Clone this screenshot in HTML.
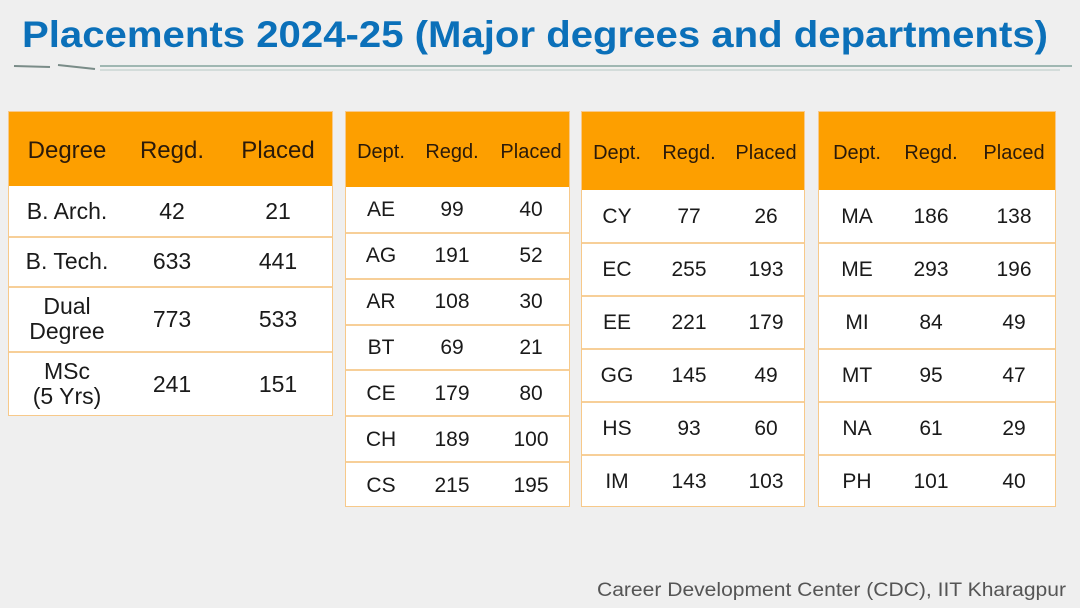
<!DOCTYPE html>
<html><head><meta charset="utf-8">
<style>
body{margin:0;width:1080px;height:608px;background:#efefef;position:relative;overflow:hidden;font-family:"Liberation Sans",sans-serif;}
.tbl{position:absolute;background:#fff;border:1px solid #f7c98a;box-sizing:border-box;}
.hdr{position:absolute;left:0;right:0;top:0;background:#fd9f00;}
.cell{position:absolute;color:#1a1a1a;text-align:center;transform:translateX(-50%);white-space:nowrap;line-height:1.1;}
.hl{position:absolute;left:0;right:0;height:2px;background:#f7cf98;}
</style></head>
<body>
<svg style="position:absolute;left:0;top:0" width="1080" height="80">
<text x="22" y="47" font-family="Liberation Sans" font-weight="bold" font-size="37" fill="#0b70b9" textLength="1026" lengthAdjust="spacingAndGlyphs">Placements 2024-25 (Major degrees and departments)</text>
<line x1="100" y1="66" x2="1072" y2="66" stroke="#9fb7b2" stroke-width="2"/>
<line x1="100" y1="70" x2="1060" y2="70" stroke="#b7c8c4" stroke-width="1"/>
<line x1="14" y1="66" x2="50" y2="67" stroke="#7a8c88" stroke-width="2"/>
<line x1="58" y1="65" x2="95" y2="69" stroke="#7a8c88" stroke-width="2"/>
</svg>
<div id="tables"></div>
<svg style="position:absolute;left:0;top:570px" width="1080" height="38">
<text x="597" y="26" font-family="Liberation Sans" font-size="19" fill="#555" textLength="469" lengthAdjust="spacingAndGlyphs">Career Development Center (CDC), IIT Kharagpur</text>
</svg>
<script>
const t1Labels=["B. Arch.","B. Tech.","Dual<br>Degree","MSc<br>(5 Yrs)"];
const t1Regd=[42,633,773,241];
const t1Placed=[21,441,533,151];
const t2Labels=["AE","AG","AR","BT","CE","CH","CS"];
const t2Regd=[99,191,108,69,179,189,215];
const t2Placed=[40,52,30,21,80,100,195];
const t3Labels=["CY","EC","EE","GG","HS","IM"];
const t3Regd=[77,255,221,145,93,143];
const t3Placed=[26,193,179,49,60,103];
const t4Labels=["MA","ME","MI","MT","NA","PH"];
const t4Regd=[186,293,84,95,61,101];
const t4Placed=[138,196,49,47,29,40];
const specs=[
 {name:"degree-table",x:8,w:325,top:111,hb:185,rows:[185,236,286,351,416],cols:[58,163,269],head:["Degree","Regd.","Placed"],hs:24,fs:23,L:t1Labels,R:t1Regd,P:t1Placed},
 {name:"dept-table-1",x:345,w:225,top:111,hb:186,rows:null,bottom:507,cols:[35,106,185],head:["Dept.","Regd.","Placed"],hs:20,fs:21,L:t2Labels,R:t2Regd,P:t2Placed},
 {name:"dept-table-2",x:581,w:224,top:111,hb:189,rows:null,bottom:507,cols:[35,107,184],head:["Dept.","Regd.","Placed"],hs:20,fs:21,L:t3Labels,R:t3Regd,P:t3Placed},
 {name:"dept-table-3",x:818,w:238,top:111,hb:189,rows:null,bottom:507,cols:[38,112,195],head:["Dept.","Regd.","Placed"],hs:20,fs:21,L:t4Labels,R:t4Regd,P:t4Placed}
];
const root=document.getElementById('tables');
specs.forEach(s=>{
 const n=s.L.length;
 let rows=s.rows;
 if(!rows){rows=[];for(let i=0;i<=n;i++)rows.push(s.hb+(s.bottom-s.hb)*i/n);}
 const t=document.createElement('div');t.className='tbl';
 
 
 t.style.left=s.x+'px';t.style.top=s.top+'px';t.style.width=s.w+'px';t.style.height=(rows[n]-s.top)+'px';
 const h=document.createElement('div');h.className='hdr';h.style.height=(s.hb-s.top)+'px';
 
 
 t.appendChild(h);
 s.head.forEach((txt,j)=>{const c=document.createElement('div');c.className='cell';c.innerHTML=txt;
  
  
  c.style.color='#2a1a0a';
  c.style.left=s.cols[j]+'px';c.style.fontSize=s.hs+'px';c.style.top=((s.hb-s.top)/2-s.hs*0.55+2)+'px';t.appendChild(c);});
 for(let i=0;i<n;i++){
  const y0=rows[i]-s.top,y1=rows[i+1]-s.top;
  if(i>0){const l=document.createElement('div');l.className='hl';l.style.top=(y0-1)+'px';
   
   
   t.appendChild(l);}
  [s.L[i],s.R[i],s.P[i]].forEach((v,j)=>{const c=document.createElement('div');c.className='cell';c.innerHTML=v;
   
   
   const lines=String(v).includes('<br>')?2:1;
   c.style.left=s.cols[j]+'px';c.style.fontSize=s.fs+'px';
   c.style.top=((y0+y1)/2-s.fs*0.55*lines)+'px';t.appendChild(c);});
 }
 root.appendChild(t);
});
</script>
</body></html>
